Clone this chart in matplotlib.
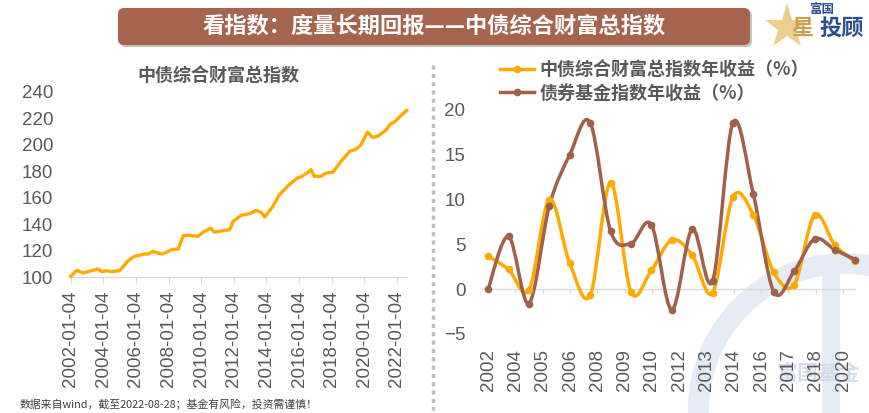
import numpy as np
import matplotlib
matplotlib.use("Agg")
import matplotlib.pyplot as plt
from matplotlib.path import Path
from matplotlib.patches import PathPatch, FancyBboxPatch, Wedge, Rectangle
from matplotlib.lines import Line2D

plt.rcParams['font.family'] = ['Liberation Sans', 'Noto Sans CJK SC']
cjk = ['Noto Sans CJK SC', 'DejaVu Sans']

# left panel: wealth index
idx_year = [2002.0, 2002.37, 2002.77, 2003.49, 2003.7, 2003.9, 2004.2, 2004.5, 2005.0, 2005.5,
            2005.9, 2006.55, 2006.75, 2007.05, 2007.56, 2007.87, 2008.2, 2008.6, 2008.9, 2009.2,
            2009.8, 2010.2, 2010.6, 2010.8, 2011.1, 2011.75, 2011.95, 2012.46, 2012.97, 2013.38,
            2013.68, 2013.9, 2014.4, 2014.8, 2015.4, 2015.9, 2016.2, 2016.74, 2016.94, 2017.35,
            2017.66, 2018.07, 2018.58, 2019.1, 2019.5, 2019.8, 2020.2, 2020.5, 2020.8, 2021.3,
            2021.6, 2021.9, 2022.2, 2022.6]
idx_val = [100.5, 105, 103, 105.5, 106, 104, 104.8, 104, 104.8, 112,
           115.6, 117.4, 117.4, 119.4, 117.4, 118.7, 120.7, 121.2, 131.3, 131.5,
           130.8, 134.5, 137, 134, 134.5, 135.8, 142, 146.7, 147.9, 150.4,
           148.9, 145.4, 153.5, 162.3, 169.9, 174.9, 176.2, 181.2, 176.2, 176.2,
           178.7, 179.2, 187.5, 195, 196.8, 200.1, 209.7, 205.7, 206.4, 210.7,
           215.8, 217.8, 221.6, 226.1]
left_ticks = list(range(2002, 2023, 2))
left_labels = [f"{y}-01-04" for y in left_ticks]

# right panel: yearly returns (%)
ret_index = [3.7, 2.2, -0.1, 10.0, 2.9, -0.7, 11.9, -0.3, 2.1, 5.5,
             3.8, -0.4, 10.3, 8.3, 1.9, 0.5, 8.3, 4.9, 3.1]
ret_fund = [0.0, 5.9, -1.6, 9.3, 15.0, 18.6, 6.5, 5.1, 7.2, -2.3,
            6.7, 0.9, 18.6, 10.6, -0.3, 2.0, 5.6, 4.4, 3.3]
right_labels = ["2002", "2004", "2005", "2006", "2008", "2009", "2010",
                "2012", "2013", "2014", "2016", "2017", "2018", "2020"]

yellow = "#FFAA00"
brown = "#A0604A"
gray = "#595959"

W, H = 870, 413
fig = plt.figure(figsize=(W / 100, H / 100), dpi=100)

def fbox(x0, y0, x1, y1):
    return [x0 / W, 1 - y1 / H, (x1 - x0) / W, (y1 - y0) / H]

def smooth(ax, x, y, color, lw):
    n = len(x)
    verts = [(x[0], y[0])]
    codes = [Path.MOVETO]
    for i in range(n - 1):
        a = max(i - 1, 0)
        d = min(i + 2, n - 1)
        c1 = (x[i] + (x[i + 1] - x[a]) / 6, y[i] + (y[i + 1] - y[a]) / 6)
        c2 = (x[i + 1] - (x[d] - x[i]) / 6, y[i + 1] - (y[d] - y[i]) / 6)
        verts += [c1, c2, (x[i + 1], y[i + 1])]
        codes += [Path.CURVE4] * 3
    ax.add_patch(PathPatch(Path(verts, codes), fill=False, edgecolor=color, lw=lw,
                           capstyle='round', joinstyle='round', zorder=3))

# watermark (bottom right)
wm = "#E6ECF5"
fig.patches.append(Wedge((845, H - 410), 157, 0, 360, width=21, transform=None,
                         facecolor=wm, edgecolor='none', zorder=-2))
fig.patches.append(Rectangle((822, 0), 18, H - 255, transform=None,
                             facecolor=wm, edgecolor='none', zorder=-2))
fig.text(818 / W, 1 - 373 / H, "富国基金", family=cjk, fontsize=15, fontweight='bold',
         color="#D3DDEB", ha='center', va='center', zorder=-1)

# banner
fig.patches.append(FancyBboxPatch((120, H - 47), 632, 37, boxstyle="round,pad=0,rounding_size=6",
                                  transform=None, facecolor="#C4C4C4", edgecolor='none', zorder=1))
fig.patches.append(FancyBboxPatch((118, H - 45), 632, 37, boxstyle="round,pad=0,rounding_size=6",
                                  transform=None, facecolor="#A6634E", edgecolor='none', zorder=2))
fig.text(434 / W, 1 - 26 / H, "看指数：度量长期回报——中债综合财富总指数", family=cjk,
         fontsize=16, fontweight='bold', color='white', ha='center', va='center', zorder=3)

# logo
fig.add_artist(Line2D([787 / W], [1 - 27 / H], marker='*', ms=34, color="#E9C77A",
                      markeredgewidth=0, alpha=0.85))
fig.text(822 / W, 1 - 9 / H, "富国", family=cjk, fontsize=9, fontweight='bold',
         color="#2E4F8F", ha='center', va='center')
fig.text(802 / W, 1 - 28 / H, "星", family=cjk, fontsize=16, fontweight='bold',
         color="#C9A04F", ha='center', va='center')
fig.text(842 / W, 1 - 28 / H, "投顾", family=cjk, fontsize=16, fontweight='bold',
         color="#2E4F8F", ha='center', va='center')

# separator
fig.add_artist(Line2D([433 / W, 433 / W], [1 - 65 / H, 1 - 410 / H], color="#C0C0C0",
                      lw=2.5, linestyle=(0, (1.2, 1.2))))

# left chart
ax1 = fig.add_axes(fbox(70, 92, 407, 277))
ax1.patch.set_alpha(0)
ax1.plot(idx_year, idx_val, color=yellow, lw=2.4, clip_on=False, zorder=3)
ax1.set_xlim(2001.96, 2022.62)
ax1.set_ylim(100, 240)
ax1.set_yticks(range(100, 241, 20))
ax1.set_xticks(left_ticks)
ax1.set_xticklabels(left_labels, rotation=90)
for s in ['top', 'right', 'left']:
    ax1.spines[s].set_visible(False)
ax1.spines['bottom'].set_color("#D9D9D9")
ax1.tick_params(axis='y', length=0, pad=12, labelsize=13.5, labelcolor=gray)
ax1.tick_params(axis='x', length=4, color="#D9D9D9", pad=6, labelsize=13.5, labelcolor=gray)
fig.text(218 / W, 1 - 75 / H, "中债综合财富总指数", family=cjk, fontsize=13, fontweight='bold',
         color=gray, ha='center', va='center')

# right chart
ax2 = fig.add_axes(fbox(482, 110, 856, 334))
ax2.patch.set_alpha(0)
xs = np.arange(len(ret_index))
ax2.set_xlim(-0.3, 18.03)
ax2.set_ylim(-5, 20)
ax2.axhline(0, color="#D9D9D9", lw=1, zorder=1)
tpos = np.arange(len(right_labels)) * 1.338
ax2.vlines(tpos[1:], -0.45, 0, color="#D9D9D9", lw=1, zorder=1)
smooth(ax2, xs, ret_index, yellow, 2.5)
smooth(ax2, xs, ret_fund, brown, 2.5)
ax2.plot(xs, ret_index, 'o', color=yellow, ms=4.5, zorder=4, clip_on=False)
ax2.plot(xs, ret_fund, 'o', color=brown, ms=4.5, zorder=5, clip_on=False)
ax2.set_yticks(range(-5, 21, 5))
ax2.set_xticks(tpos)
ax2.set_xticklabels(right_labels, rotation=90)
for s in ax2.spines.values():
    s.set_visible(False)
ax2.tick_params(axis='y', length=0, pad=12, labelsize=13.5, labelcolor=gray)
ax2.tick_params(axis='x', length=0, pad=11, labelsize=13.5, labelcolor=gray)

handles = [Line2D([], [], color=yellow, lw=2.5, marker='o', ms=4.5),
           Line2D([], [], color=brown, lw=2.5, marker='o', ms=4.5)]
fig.legend(handles, ["中债综合财富总指数年收益（%）", "债券基金指数年收益（%）"],
           loc='upper left', bbox_to_anchor=(500 / W, 1 - 60 / H), frameon=False,
           prop={'family': cjk, 'size': 13, 'weight': 'bold'}, labelcolor=gray,
           handlelength=1.9, handletextpad=0.3, labelspacing=0.25, borderaxespad=0,
           borderpad=0)

fig.text(20 / W, 1 - 404 / H, "数据来自wind，截至2022-08-28；基金有风险，投资需谨慎！",
         family=cjk, fontsize=7.8, color="#404040", ha='left', va='center')

fig.savefig("out.png", dpi=100)
